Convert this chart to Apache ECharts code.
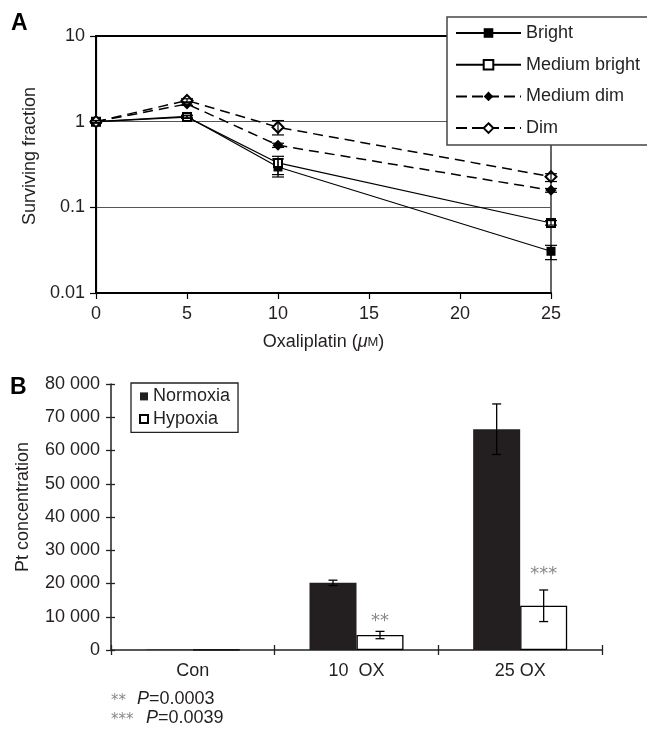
<!DOCTYPE html>
<html><head><meta charset="utf-8">
<script src="https://cdn.jsdelivr.net/npm/echarts@6/dist/echarts.min.js"></script>
<style>html,body{margin:0;padding:0;background:#fff}#c{width:647px;height:731px}</style>
</head><body><div id="c"></div>
<script>
const FONT = 'Liberation Sans, Arial, Helvetica, sans-serif';
const TXT = '#231f20';

// ---------- Panel A data ----------
const doses = [0, 5, 10, 25];
const seriesNamesA = ['Bright', 'Medium bright', 'Medium dim', 'Dim'];
const bright        = [1.0, 1.15, 0.296, 0.0307];
const brightLow     = [0.97, 1.11, 0.226, 0.0245];
const brightHigh    = [1.03, 1.19, 0.367, 0.036];
const medBright     = [1.0, 1.13, 0.33, 0.0657];
const medBrightLow  = [0.97, 1.09, 0.241, 0.062];
const medBrightHigh = [1.03, 1.17, 0.394, 0.070];
const medDim        = [1.0, 1.61, 0.53, 0.158];
const medDimLow     = [0.97, 1.55, 0.50, 0.150];
const medDimHigh    = [1.03, 1.68, 0.56, 0.166];
const dim           = [1.0, 1.77, 0.86, 0.228];
const dimLow        = [0.97, 1.70, 0.70, 0.200];
const dimHigh       = [1.03, 1.85, 1.03, 0.247];
const yTicksA = [0.01, 0.1, 1, 10];
const yTickLabelsA = ['0.01', '0.1', '1', '10'];

// ---------- Panel B data ----------
const groups = ['Con', '10  OX', '25 OX'];
const seriesNamesB = ['Normoxia', 'Hypoxia'];
const normoxia    = [120, 20200, 66400];
const normoxiaErr = [0, 800, 7600];
const hypoxia     = [100, 4500, 13300];
const hypoxiaErr  = [0, 1100, 4750];
const sigMarks    = ['', '**', '***'];
const sigLevel    = [0, 9600, 23800];
const footnotes   = [['**', '0.0003'], ['***', '0.0039']];

const BAR_W = 47;
const DASH = [10, 6];

function pairs(xs, ys) { return xs.map((x, i) => [x, ys[i]]); }
function errRows(xs, lo, hi) { return xs.map((x, i) => [x, lo[i], hi[i]]); }

const errDataA = [].concat(
  errRows(doses, brightLow, brightHigh),
  errRows(doses, medBrightLow, medBrightHigh),
  errRows(doses, medDimLow, medDimHigh),
  errRows(doses, dimLow, dimHigh)
);

function errRenderA(params, api) {
  const x = api.value(0), lo = api.value(1), hi = api.value(2);
  const a = api.coord([x, lo]), b = api.coord([x, hi]);
  const w = 6, st = { stroke: '#000', lineWidth: 1.2 };
  return { type: 'group', children: [
    { type: 'line', shape: { x1: a[0], y1: a[1], x2: b[0], y2: b[1] }, style: st },
    { type: 'line', shape: { x1: a[0] - w, y1: a[1], x2: a[0] + w, y2: a[1] }, style: st },
    { type: 'line', shape: { x1: b[0] - w, y1: b[1], x2: b[0] + w, y2: b[1] }, style: st }
  ]};
}

function makeErrRenderB(side, withSig) {
  return function (params, api) {
    const c = api.value(0), lo = api.value(1), hi = api.value(2);
    if (hi - lo <= 0) return null;
    const a = api.coord([c, lo]), b = api.coord([c, hi]);
    const cx = a[0] + side * BAR_W / 2;
    const w = 4.5, st = { stroke: '#000', lineWidth: 1.3 };
    const ch = [
      { type: 'line', shape: { x1: cx, y1: a[1], x2: cx, y2: b[1] }, style: st },
      { type: 'line', shape: { x1: cx - w, y1: a[1], x2: cx + w, y2: a[1] }, style: st },
      { type: 'line', shape: { x1: cx - w, y1: b[1], x2: cx + w, y2: b[1] }, style: st }
    ];
    const i = params.dataIndex;
    if (withSig && sigMarks[i]) {
      const p = api.coord([c, sigLevel[i]]);
      ch.push({ type: 'text', x: cx, y: p[1] + 3, style: {
        text: sigMarks[i], fill: '#888', font: '18px DejaVu Sans',
        align: 'center', verticalAlign: 'middle' } });
    }
    return { type: 'group', children: ch };
  };
}

const legendDataA = seriesNamesA.map((n, i) => i < 2 ? { name: n } : { name: n, lineStyle: { type: [11, 5] } });

const option = {
  animation: false,
  backgroundColor: '#fff',
  textStyle: { fontFamily: FONT, color: TXT },
  grid: [
    { left: 96, right: 96, top: 36, bottom: 438, show: true, borderColor: '#000', borderWidth: 1.2 },
    { left: 111, right: 45, top: 384, bottom: 81 }
  ],
  legend: [
    {
      data: legendDataA, orient: 'vertical', left: 447, top: 17,
      padding: [7, 40, 8, 8], itemWidth: 65, itemHeight: 12, itemGap: 13.7,
      selectedMode: false, backgroundColor: '#fff', borderColor: '#444', borderWidth: 1.5,
      textStyle: { fontSize: 18, lineHeight: 18, color: TXT, fontFamily: FONT }
    },
    {
      data: seriesNamesB, orient: 'vertical', left: 131, top: 383,
      padding: [4.4, 8, 4.4, 8], itemWidth: 8, itemHeight: 8, itemGap: 4.6, icon: 'rect',
      selectedMode: false, backgroundColor: '#fff', borderColor: '#222', borderWidth: 1.3,
      textStyle: { fontSize: 18, lineHeight: 18, color: TXT, fontFamily: FONT }
    }
  ],
  xAxis: [
    {
      gridIndex: 0, type: 'value', min: 0, max: 25, interval: 5,
      axisLine: { lineStyle: { color: '#000', width: 2 } },
      axisTick: { length: 6, lineStyle: { color: '#000', width: 1.2 } },
      axisLabel: { fontSize: 18, color: TXT, margin: 12, fontFamily: FONT },
      splitLine: { show: false },
      name: 'Oxaliplatin ({i|μ}{s|M})', nameLocation: 'middle', nameGap: 40,
      nameTextStyle: { fontSize: 18, color: TXT, fontFamily: FONT,
        rich: { i: { fontStyle: 'italic', fontSize: 18, fontFamily: FONT, color: TXT },
                s: { fontSize: 13, fontFamily: FONT, color: TXT } } }
    },
    {
      gridIndex: 0, type: 'value', min: 0, max: 25, position: 'top',
      axisLine: { lineStyle: { color: '#000', width: 2 } },
      axisTick: { show: false }, axisLabel: { show: false }, splitLine: { show: false }
    },
    {
      gridIndex: 1, type: 'category', data: groups, boundaryGap: true,
      axisLine: { lineStyle: { color: '#222', width: 1.5 } },
      axisTick: { show: true, length: 5, interval: 0, lineStyle: { color: '#222', width: 1.3 } },
      axisLabel: { fontSize: 18, color: TXT, margin: 12, interval: 0, fontFamily: FONT }
    },
    {
      gridIndex: 1, type: 'category', data: groups, boundaryGap: true, position: 'bottom',
      axisLine: { show: false },
      axisTick: { show: true, inside: true, length: 5, interval: 0, lineStyle: { color: '#222', width: 1.3 } },
      axisLabel: { show: false }
    }
  ],
  yAxis: [
    {
      gridIndex: 0, type: 'log', logBase: 10, min: 0.01, max: 10,
      axisLine: { show: true, lineStyle: { color: '#000', width: 2 } },
      axisTick: { show: true, length: 6, lineStyle: { color: '#000', width: 1.2 } },
      axisLabel: { fontSize: 18, color: TXT, margin: 11, fontFamily: FONT,
        formatter: v => yTickLabelsA[Math.round(Math.log10(v)) + 2] },
      splitLine: { show: true, lineStyle: { color: '#555', width: 1 } },
      name: 'Surviving fraction', nameLocation: 'middle', nameGap: 50,
      nameTextStyle: { fontSize: 18, color: TXT, fontFamily: FONT, padding: [0, 0, 0, 17] }
    },
    {
      gridIndex: 0, type: 'log', logBase: 10, min: 0.01, max: 10, position: 'right',
      axisLine: { show: true, lineStyle: { color: '#000', width: 1.2 } },
      axisTick: { show: false }, axisLabel: { show: false }, splitLine: { show: false }
    },
    {
      gridIndex: 1, type: 'value', min: 0, max: 80000, interval: 10000,
      axisLine: { show: true, lineStyle: { color: '#222', width: 1.5 } },
      axisTick: { show: true, length: 5, lineStyle: { color: '#222', width: 1.3 } },
      axisLabel: { fontSize: 18, color: TXT, margin: 11, fontFamily: FONT,
        formatter: v => String(v).replace(/\B(?=(\d{3})+(?!\d))/g, ' ') },
      splitLine: { show: false },
      name: 'Pt concentration', nameLocation: 'middle', nameGap: 79,
      nameTextStyle: { fontSize: 18, color: TXT, fontFamily: FONT, padding: [0, 0, 0, 20] }
    },
    {
      gridIndex: 1, type: 'value', min: 0, max: 80000, interval: 10000, position: 'left',
      axisLine: { show: false },
      axisTick: { show: true, inside: true, length: 4, lineStyle: { color: '#222', width: 1.3 } },
      axisLabel: { show: false }, splitLine: { show: false }
    }
  ],
  series: [
    { name: seriesNamesA[0], type: 'line', xAxisIndex: 0, yAxisIndex: 0, data: pairs(doses, bright),
      symbol: 'rect', symbolSize: 9, itemStyle: { color: '#000' },
      lineStyle: { color: '#000', width: 1.2, type: 'solid' }, z: 2 },
    { name: seriesNamesA[1], type: 'line', xAxisIndex: 0, yAxisIndex: 0, data: pairs(doses, medBright),
      symbol: 'emptyRect', symbolSize: 8, itemStyle: { color: '#000', borderWidth: 1.2 },
      lineStyle: { color: '#000', width: 1.2, type: 'solid' }, z: 2 },
    { name: seriesNamesA[2], type: 'line', xAxisIndex: 0, yAxisIndex: 0, data: pairs(doses, medDim),
      symbol: 'diamond', symbolSize: 11, itemStyle: { color: '#000' },
      lineStyle: { color: '#000', width: 1.5, type: DASH }, z: 2 },
    { name: seriesNamesA[3], type: 'line', xAxisIndex: 0, yAxisIndex: 0, data: pairs(doses, dim),
      symbol: 'emptyDiamond', symbolSize: 11, itemStyle: { color: '#000', borderWidth: 1.2 },
      lineStyle: { color: '#000', width: 1.5, type: DASH }, z: 2 },
    { name: 'errA', type: 'custom', xAxisIndex: 0, yAxisIndex: 0, data: errDataA,
      encode: { x: 0, y: [1, 2] }, renderItem: errRenderA, z: 3, silent: true },

    { name: seriesNamesB[0], type: 'bar', xAxisIndex: 2, yAxisIndex: 2, data: normoxia,
      barWidth: BAR_W, barGap: '0%', itemStyle: { color: '#231f20' } },
    { name: seriesNamesB[1], type: 'bar', xAxisIndex: 2, yAxisIndex: 2, data: hypoxia,
      barWidth: BAR_W, barGap: '0%', itemStyle: { color: '#fff', borderColor: '#000', borderWidth: 1.3 } },
    { name: 'errN', type: 'custom', xAxisIndex: 2, yAxisIndex: 2,
      data: groups.map((g, i) => [i, normoxia[i] - normoxiaErr[i], normoxia[i] + normoxiaErr[i]]),
      encode: { x: 0, y: [1, 2] }, renderItem: makeErrRenderB(-1, false), z: 3, silent: true },
    { name: 'errH', type: 'custom', xAxisIndex: 2, yAxisIndex: 2,
      data: groups.map((g, i) => [i, hypoxia[i] - hypoxiaErr[i], hypoxia[i] + hypoxiaErr[i]]),
      encode: { x: 0, y: [1, 2] }, renderItem: makeErrRenderB(1, true), z: 3, silent: true }
  ],
  graphic: [
    { type: 'text', left: 11, top: 12, style: { text: 'A', font: 'bold 23px ' + FONT, fill: '#000' } },
    { type: 'text', left: 10, top: 376, style: { text: 'B', font: 'bold 23px ' + FONT, fill: '#000' } },
    { type: 'text', left: 111, top: 694, style: { text: footnotes[0][0], font: '15px DejaVu Sans', fill: '#888' } },
    { type: 'text', left: 137, top: 690, style: { text: '{p|P}=' + footnotes[0][1], font: '18px ' + FONT, fill: TXT,
        rich: { p: { fontStyle: 'italic', fontSize: 18, fontFamily: FONT, fill: TXT } } } },
    { type: 'text', left: 111, top: 713, style: { text: footnotes[1][0], font: '15px DejaVu Sans', fill: '#888' } },
    { type: 'text', left: 146, top: 709, style: { text: '{p|P}=' + footnotes[1][1], font: '18px ' + FONT, fill: TXT,
        rich: { p: { fontStyle: 'italic', fontSize: 18, fontFamily: FONT, fill: TXT } } } }
  ]
};

const chart = echarts.init(document.getElementById('c'));
chart.setOption(option);
</script>
</body></html>
